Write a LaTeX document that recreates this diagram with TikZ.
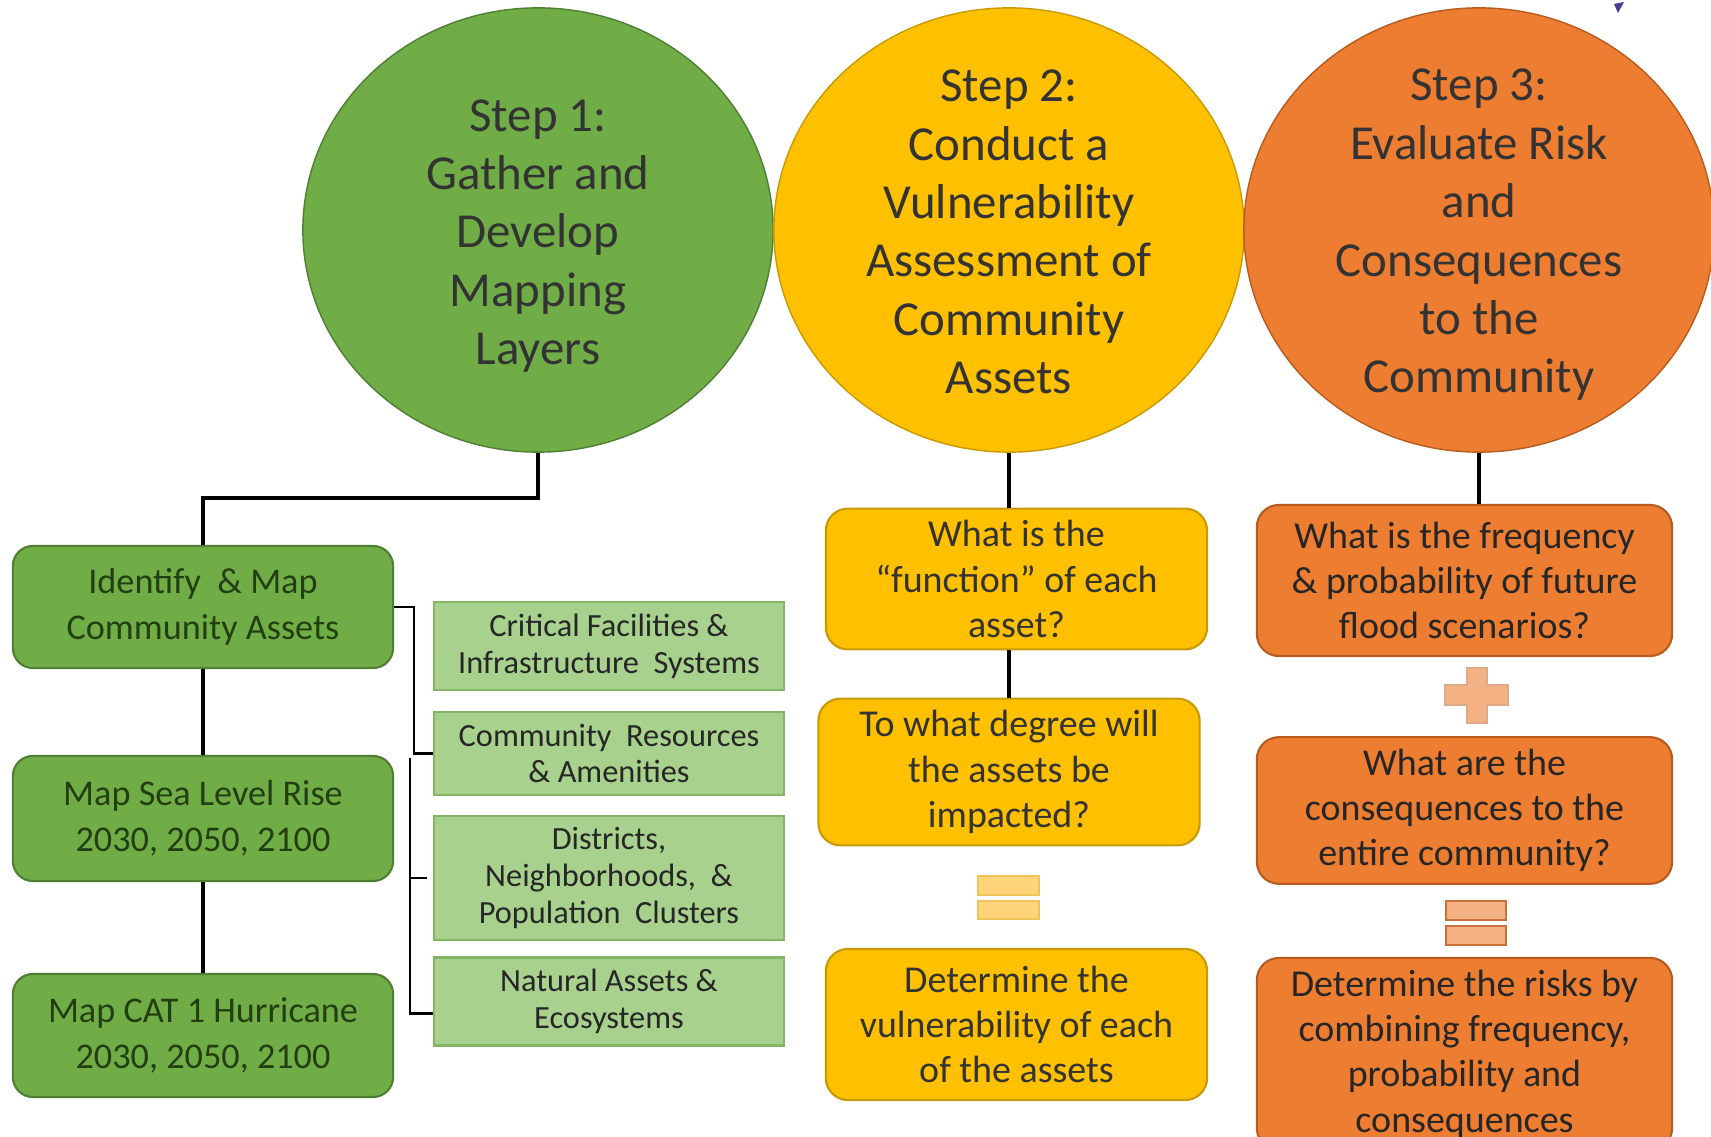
\documentclass[tikz,border=0pt]{standalone}
\usepackage{fontspec}
\setmainfont{Carlito}
\usetikzlibrary{shapes.geometric}

\definecolor{gstep}{HTML}{70AD47}
\definecolor{gstepD}{HTML}{507E33}
\definecolor{gtext}{HTML}{233F12}
\definecolor{ystep}{HTML}{FFC000}
\definecolor{ystepD}{HTML}{C99A00}
\definecolor{ostep}{HTML}{ED7D31}
\definecolor{ostepD}{HTML}{B85B1E}
\definecolor{lgreen}{HTML}{A9D18E}
\definecolor{lgreenD}{HTML}{84B466}
\definecolor{eqY}{HTML}{FDD47A}
\definecolor{eqYD}{HTML}{F2C25A}
\definecolor{eqO}{HTML}{F4B183}
\definecolor{eqOD}{HTML}{C8713B}

\begin{document}
\begin{tikzpicture}[x=0.01cm,y=-0.01cm,
  stepcirc/.style={ellipse,minimum width=4.70cm,minimum height=4.44cm,inner sep=0pt,line width=0.4pt},
  steptext/.style={align=center,text=black!80,font=\fontsize{13.9}{16.6}\selectfont},
  mapbox/.style={draw=gstepD,fill=gstep,rounded corners=0.2cm,line width=0.6pt,minimum width=3.80cm,align=center,text=gtext,font=\fontsize{10.3}{13.1}\selectfont},
  assetbox/.style={draw=lgreenD,fill=lgreen,line width=0.6pt,minimum width=3.50cm,align=center,text=black!85,font=\fontsize{9.2}{10.5}\selectfont},
  askbox/.style={rounded corners=0.22cm,line width=0.6pt,minimum width=3.81cm,align=center,font=\fontsize{10.8}{12.9}\selectfont},
  joinline/.style={line width=1pt},
  bracketline/.style={line width=0.6pt}]
\useasboundingbox (0,0) rectangle (1711,1137);
\fill[white] (0,0) rectangle (1711,1137);
\clip (0,0) rectangle (1711,1137);
% the three steps
\node[stepcirc,fill=gstep,draw=gstepD] (c1) at (538,230) {};
\node[stepcirc,fill=ystep,draw=ystepD] (c2) at (1009,230) {};
\node[stepcirc,fill=ostep,draw=ostepD] (c3) at (1479,230) {};
\node[steptext] (t1) at (538,236) {Step 1:\\Gather and\\Develop\\Mapping\\Layers};
\node[steptext] (t2) at (1009,232) {Step 2:\\Conduct a\\Vulnerability\\Assessment of\\Community\\Assets};
\node[steptext] (t3) at (1479,235) {Step 3:\\Evaluate Risk\\and\\Consequences\\to the\\Community};
% step 1 column
\node[mapbox,minimum height=1.22cm] (g1) at (203,607) {Identify\ \ \& Map\\Community Assets};
\node[mapbox,minimum height=1.25cm] (g2) at (203,818.5) {Map Sea Level Rise\\2030, 2050, 2100};
\node[mapbox,minimum height=1.23cm] (g3) at (203,1035.5) {Map CAT 1 Hurricane\\2030, 2050, 2100};
\node[assetbox,minimum height=0.76cm] (a1) at (609,646) {Critical Facilities \&\\Infrastructure\ \ Systems};
\node[assetbox,minimum height=0.73cm] (a2) at (609,753.5) {Community\ \ Resources\\\& Amenities};
\node[assetbox,minimum height=1.08cm] (a3) at (609,878) {Districts,\\Neighborhoods,\ \ \&\\Population\ \ Clusters};
\node[assetbox,minimum height=0.73cm] (a4) at (609,1001.5) {Natural Assets \&\\Ecosystems};
\draw[joinline] (c1.south) -- ++(0,45) -| (g1.north);
\draw[joinline] (g1) -- (g2);
\draw[joinline] (g2) -- (g3);
\draw[bracketline] (g1.east) -- ++(20,0) |- (a2.west);
\coordinate (brk) at (410,758);
\draw[bracketline] (brk) |- ([yshift=-0.12cm]a4.west);
\draw[bracketline] (brk |- a3.west) -- ++(17,0);
% step 2 column
\node[askbox,fill=ystep,draw=ystepD,text=black!80,minimum height=1.36cm] (y1) at (1016.5,579) {What is the\\``function'' of each\\asset?};
\node[askbox,fill=ystep,draw=ystepD,text=black!80,minimum height=1.40cm] (y2) at (1009,772) {To what degree will\\the assets be\\impacted?};
\node[askbox,fill=ystep,draw=ystepD,text=black!80,minimum height=1.51cm] (y3) at (1016.5,1024.5) {Determine the\\vulnerability of each\\of the assets};
\draw[joinline] (c2.south) -- (c2.south |- y1.north);
\draw[joinline] (y2.north) -- (y2.north |- y1.south);
\draw[fill=eqY,draw=eqYD,line width=0.5pt] (978,876) rectangle (1039,895);
\draw[fill=eqY,draw=eqYD,line width=0.5pt] (978,901) rectangle (1039,919);
% step 3 column
\node[askbox,fill=ostep,draw=ostepD,text=black!85,minimum width=4.15cm,minimum height=1.51cm] (o1) at (1464.5,580.5) {What is the frequency\\\& probability of future\\flood scenarios?};
\node[askbox,fill=ostep,draw=ostepD,text=black!85,minimum width=4.15cm,minimum height=1.43cm] (o2) at (1464.5,810.5) {What are the\\consequences to the\\entire community?};
\node[askbox,fill=ostep,draw=ostepD,text=black!85,minimum width=4.15cm,minimum height=1.92cm] (o3) at (1464.5,1054) {Determine the risks by\\combining frequency,\\probability and\\consequences};
\draw[joinline] (c3.south) -- (c3.south |- o1.north);
\draw[fill=eqO,draw=eqOD!60,line width=0.5pt] (1467,668) -- (1487,668) -- (1487,685) -- (1508,685) -- (1508,705) -- (1487,705) -- (1487,723) -- (1467,723) -- (1467,705) -- (1445,705) -- (1445,685) -- (1467,685) -- cycle;
\draw[fill=eqO,draw=eqOD,line width=0.5pt] (1446,901) rectangle (1506,920);
\draw[fill=eqO,draw=eqOD,line width=0.5pt] (1446,926) rectangle (1506,945);
% corner mark
\fill[blue!45!black!75] (1614,4) -- (1624,2) -- (1618,13) -- cycle;
\end{tikzpicture}
\end{document}
